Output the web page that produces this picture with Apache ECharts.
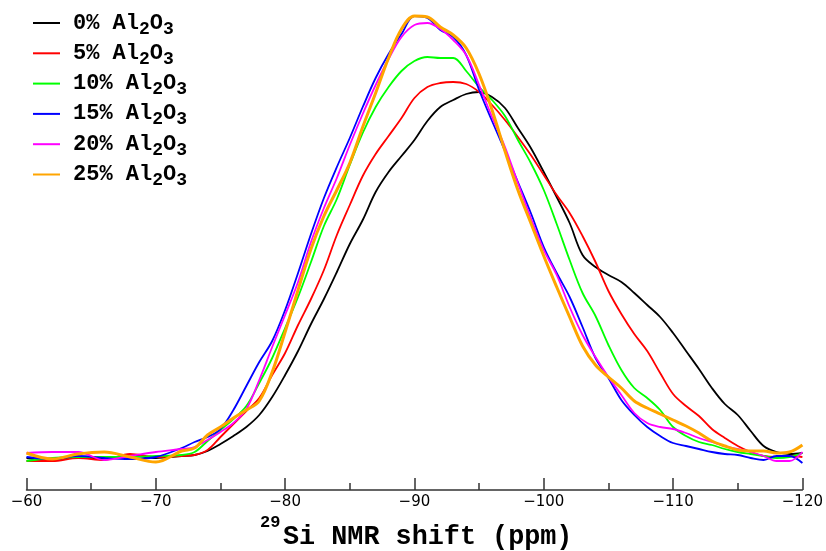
<!DOCTYPE html>
<html>
<head>
<meta charset="utf-8">
<script src="https://cdn.jsdelivr.net/npm/echarts@6/dist/echarts.min.js"></script>
<style>html,body{margin:0;padding:0;background:#fff}#c{width:826px;height:551px}</style>
</head>
<body>
<div id="c"></div>
<script>
// 29Si NMR chemical shift (ppm)
const ppm = [-60,-62,-64,-66,-68,-70,
  -72,-73,-74,-75,-76,-77,-78,-79,-80,-81,
  -82,-83,-84,-85,-86,-87,-88,-89,-90,-91,
  -92,-93,-94,-95,-96,-97,-98,-99,-100,-101,
  -102,-103,-104,-105,-106,-107,-108,-109,-110,-111,
  -112,-113,-114,-115,-116,-117,-118,-119,-120];

const seriesNames = ['0', '5', '10', '15', '20', '25']; // % Al2O3

const al0 = [2,0,3,1,5,2, 4,5,9,16,24,33,45,63,85,109, 136,161,188,216,240,268,288,304,320,339,
  353,360,366,368,363,352,332,312,288,263, 237,205,193,185,178,167,155,143,127,109, 91,72,56,45,29,14,8,6,7];
const al5 = [-1,-1,2,0,6,3, 4,5,10,23,36,49,62,85,107,135, 161,190,225,255,284,306,324,342,362,373,
  377,378,376,368,355,340,323,305,285,265, 247,224,198,169,146,126,109,87,66,54, 44,31,22,14,8,4,3,4,3];
const al10 = [-1,2,3,3,3,4, 5,8,19,30,41,54,77,102,132,163, 198,234,261,295,327,353,373,389,399,403,
  402,402,389,373,360,344,320,297,270,236, 200,167,144,115,90,72,62,50,33,24, 18,15,11,8,6,4,2,3,7];
const al15 = [3,1,4,2,1,3, 12,18,23,31,50,74,98,119,150,187, 226,262,293,322,353,382,406,426,444,442,
  430,423,405,370,339,309,278,247,213,187, 163,133,102,82,60,45,33,24,17,14, 11,8,6,5,2,0,4,4,-3];
const al20 = [7,8,8,0,4,8, 11,13,20,28,37,51,80,113,145,178, 218,252,282,315,346,375,401,423,435,437,
  431,420,405,375,343,313,277,242,210,185, 153,125,103,83,65,47,37,33,31,27, 22,18,14,11,8,4,-1,-1,8];
const al25 = [7,1,6,8,3,-2, 9,12,25,33,42,50,59,88,128,170, 211,244,270,297,333,367,402,431,444,443,
  433,425,412,386,350,309,270,237,204,173, 143,114,95,83,72,59,52,46,40,34, 27,19,14,10,9,9,7,8,15];

const tickValues = [-60,-70,-80,-90,-100,-110,-120];

const allData = [al0, al5, al10, al15, al20, al25];
const colors = ['#000000', '#ff0000', '#00ff00', '#0000ff', '#ff00ff', '#ffa500'];
const widths = [1.8, 1.8, 1.8, 1.8, 1.8, 3];

const chart = echarts.init(document.getElementById('c'), null, {renderer: 'canvas'});

const series = allData.map((arr, i) => ({
  name: seriesNames[i] + '% Al2O3',
  type: 'line',
  data: ppm.map((x, j) => [x, arr[j]]),
  showSymbol: false,
  smooth: 0.35,
  lineStyle: {color: colors[i], width: widths[i]},
  itemStyle: {color: colors[i]},
  z: 2 + i
}));

chart.setOption({
  animation: false,
  backgroundColor: '#fff',
  grid: {left: 26.5, right: 23.3, top: 0, bottom: 61},
  legend: {
    orient: 'vertical',
    left: 33, top: 12, padding: 0,
    itemGap: 4.3,
    icon: 'rect',
    itemWidth: 27, itemHeight: 2,
    data: series.map(s => s.name),
    formatter: function (name) {
      const pct = name.split(' ')[0];
      return '{p|' + pct + ' Al}{s|2}{m|O}{s|3}';
    },
    textStyle: {
      rich: {
        p: {fontFamily: 'Liberation Mono', fontWeight: 'bold', fontSize: 22, lineHeight: 30, color: '#000', padding: [0, 0, 0, 8]},
        m: {fontFamily: 'Liberation Mono', fontWeight: 'bold', fontSize: 22, lineHeight: 30, color: '#000'},
        s: {fontFamily: 'Liberation Mono', fontWeight: 'bold', fontSize: 18, lineHeight: 12, color: '#000', verticalAlign: 'bottom'}
      }
    }
  },
  xAxis: {
    type: 'value',
    min: -120, max: -60, interval: 10,
    inverse: true,
    axisLine: {show: true, onZero: false, lineStyle: {color: '#333', width: 1.5}},
    axisTick: {show: true, inside: true, length: 12, lineStyle: {color: '#333', width: 1.5}},
    minorTick: {show: true, splitNumber: 2, length: 7, lineStyle: {color: '#333', width: 1.5}},
    splitLine: {show: false},
    axisLabel: {
      margin: 5,
      fontFamily: 'DejaVu Sans', fontSize: 15, color: '#000',
      formatter: v => tickValues.indexOf(v) >= 0 ? String(v).replace('-', '\u2212') : ''
    }
  },
  yAxis: {
    type: 'value', min: -30, max: 460,
    show: false
  },
  graphic: [
    {type: 'text', left: 260, top: 514,
      style: {text: '29', font: 'bold 17px "Liberation Mono"', fill: '#000'}},
    {type: 'text', left: 283, top: 524,
      style: {text: 'Si NMR shift (ppm)', font: 'bold 26.8px "Liberation Mono"', fill: '#000'}}
  ],
  series: series
});
</script>
</body>
</html>
